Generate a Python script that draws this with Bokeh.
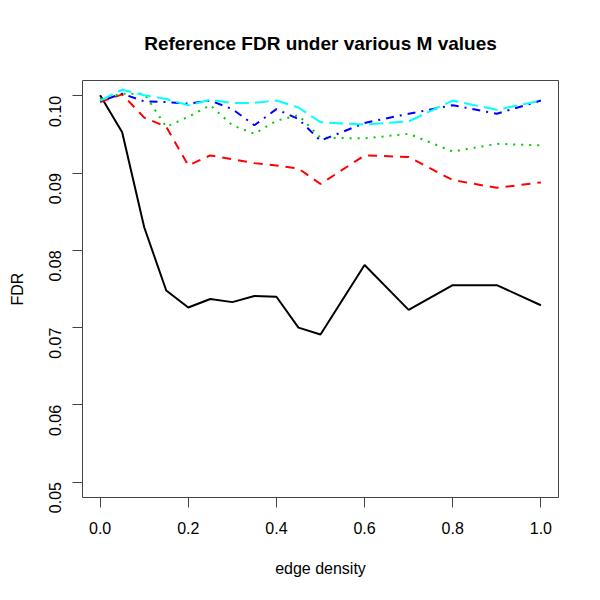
import math
from bokeh.plotting import figure
from bokeh.models import FixedTicker, PrintfTickFormatter, Range1d
from bokeh.embed import file_html
from bokeh.resources import INLINE

edge_density = [0.0, 0.05, 0.1, 0.15, 0.2, 0.25, 0.3, 0.35, 0.4, 0.45, 0.5, 0.6, 0.7, 0.8, 0.9, 1.0]
fdr_m1 = [0.1001, 0.0953, 0.0830, 0.0748, 0.0726, 0.0737, 0.0733, 0.0741, 0.0740, 0.0700, 0.0691, 0.0781, 0.0723, 0.0755, 0.0755, 0.0729]
fdr_m2 = [0.0992, 0.1002, 0.0972, 0.0960, 0.0910, 0.0923, 0.0918, 0.0913, 0.0910, 0.0906, 0.0886, 0.0923, 0.0921, 0.0891, 0.0881, 0.0888]
fdr_m3 = [0.0996, 0.1003, 0.1003, 0.0960, 0.0973, 0.0988, 0.0962, 0.0951, 0.0968, 0.0975, 0.0946, 0.0945, 0.0951, 0.0928, 0.0938, 0.0936]
fdr_m4 = [0.0993, 0.1003, 0.0993, 0.0992, 0.0990, 0.0994, 0.0983, 0.0962, 0.0983, 0.0970, 0.0942, 0.0965, 0.0977, 0.0988, 0.0977, 0.0994]
fdr_m5 = [0.0994, 0.1008, 0.1001, 0.0996, 0.0988, 0.0995, 0.0991, 0.0991, 0.0994, 0.0985, 0.0966, 0.0963, 0.0967, 0.0994, 0.0982, 0.0994]

x_ticks = [0.0, 0.2, 0.4, 0.6, 0.8, 1.0]
y_ticks = [0.05, 0.06, 0.07, 0.08, 0.09, 0.10]

series = [
    (fdr_m1, "#000000", "solid"),
    (fdr_m2, "#FF0000", "9 7"),
    (fdr_m3, "#00CD00", "2 6"),
    (fdr_m4, "#0000FF", "2 6 8 6"),
    (fdr_m5, "#00FFFF", "14 6"),
]

FONT = "Liberation Sans"

p = figure(
    frame_width=476, frame_height=417,
    min_border_left=82, min_border_top=80, min_border_right=34, min_border_bottom=95,
    x_range=Range1d(-0.04, 1.04), y_range=Range1d(0.048, 0.102),
    output_backend="svg", toolbar_location=None,
    title="Reference FDR under various M values",
    x_axis_label="edge density", y_axis_label="FDR",
)
p.background_fill_color = "white"
p.border_fill_color = "white"
p.outline_line_color = "#444444"
p.outline_line_width = 1
p.grid.visible = False

p.title.align = "center"
p.title.vertical_align = "middle"
p.title.text_font = FONT
p.title.text_font_size = "19px"
p.title.text_font_style = "bold"
p.title.text_color = "#000000"
p.title.standoff = 52

for ax in (p.xaxis[0], p.yaxis[0]):
    ax.axis_line_color = None
    ax.major_tick_in = 0
    ax.major_tick_out = 10
    ax.major_tick_line_color = "#444444"
    ax.minor_tick_line_color = None
    ax.major_label_text_font = FONT
    ax.major_label_text_font_size = "16px"
    ax.major_label_text_color = "#000000"
    ax.axis_label_text_font = FONT
    ax.axis_label_text_font_size = "16px"
    ax.axis_label_text_font_style = "normal"
    ax.axis_label_text_color = "#000000"

p.xaxis.ticker = FixedTicker(ticks=x_ticks)
p.xaxis.formatter = PrintfTickFormatter(format="%.1f")
p.xaxis.major_label_standoff = 14
p.xaxis.axis_label_standoff = 23

p.yaxis.ticker = FixedTicker(ticks=y_ticks)
p.yaxis.formatter = PrintfTickFormatter(format="%.2f")
p.yaxis.major_label_orientation = math.pi / 2
p.yaxis.major_label_standoff = 17
p.yaxis.axis_label_standoff = 15

for ys, color, dash in series:
    p.line(edge_density, ys, line_color=color, line_width=2, line_dash=dash)

open("out.html", "w").write(file_html(p, INLINE))
